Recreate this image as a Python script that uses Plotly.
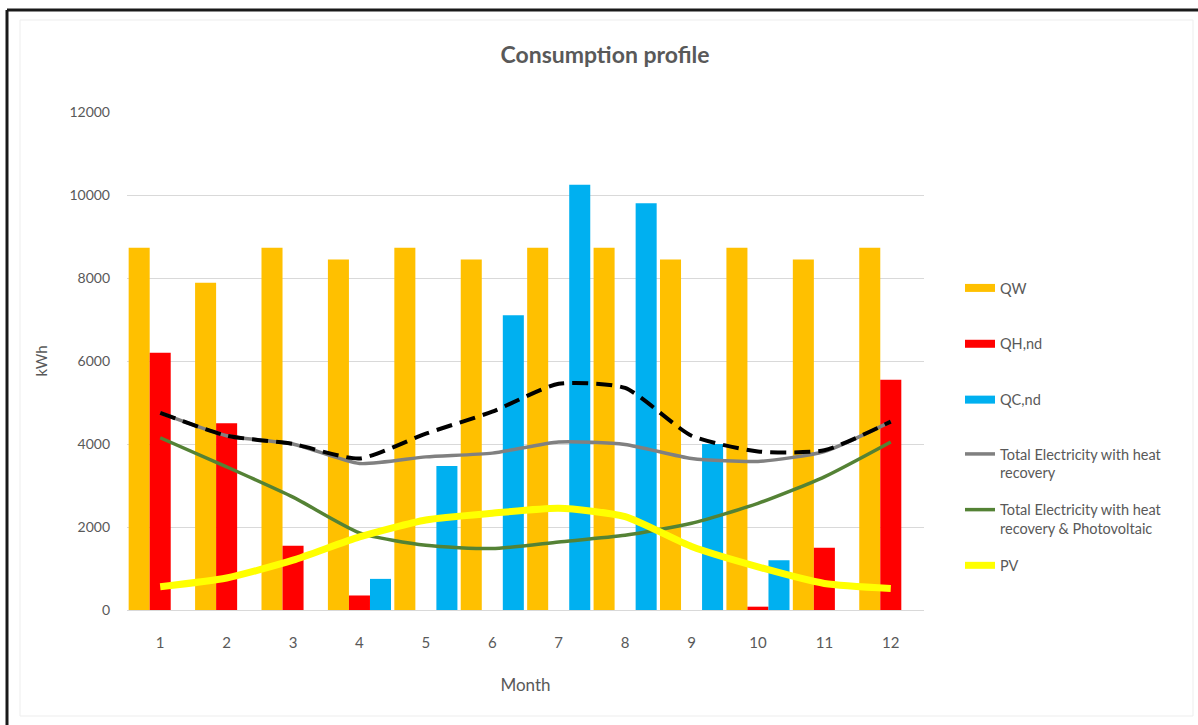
import plotly.graph_objects as go

# Monthly energy figures (kWh)
months = list(range(1, 13))
qw = [8730, 7885, 8730, 8448, 8730, 8448, 8730, 8730, 8448, 8730, 8448, 8730]
qh_nd = [6200, 4500, 1550, 350, 0, 0, 0, 0, 0, 80, 1500, 5550]
qc_nd = [0, 0, 0, 750, 3470, 7100, 10250, 9800, 4000, 1200, 0, 0]
total_no_recovery = [4750, 4200, 4000, 3650, 4250, 4780, 5450, 5350, 4200, 3820, 3850, 4540]
total_recovery = [4750, 4200, 4000, 3530, 3690, 3780, 4050, 3990, 3650, 3580, 3820, 4540]
total_recovery_pv = [4150, 3450, 2720, 1860, 1560, 1480, 1640, 1800, 2090, 2570, 3210, 4050]
pv = [560, 770, 1200, 1760, 2170, 2330, 2450, 2250, 1530, 1040, 640, 520]

y_ticks = [0, 2000, 4000, 6000, 8000, 10000, 12000]
y_tick_text = [str(v) for v in y_ticks]

FONT = "Lato"
TEXT = "#595959"
GRID = "#d9d9d9"
SMOOTH = 0.6

W, H = 1198, 725
ML, MR, MT, MB = 127, 274, 112, 115


def px_x(px):
    return (px - ML) / (W - ML - MR)


def px_y(py):
    return (H - MB - py) / (H - MT - MB)


fig = go.Figure()

bar_series = [
    ("QW", qw, "#FFC000"),
    ("QH,nd", qh_nd, "#FF0000"),
    ("QC,nd", qc_nd, "#00B0F0"),
]
for name, vals, color in bar_series:
    fig.add_trace(go.Bar(
        x=months, y=vals, name=name, marker=dict(color=color, line=dict(width=0)),
        legendgroup=name, showlegend=False,
    ))
    # wide swatch entry for the legend
    fig.add_trace(go.Scatter(
        x=[None], y=[None], mode="lines", name=name, legendgroup=name,
        line=dict(color=color, width=8), legend="legend",
    ))

fig.add_trace(go.Scatter(
    x=months, y=total_recovery, mode="lines", name="Total Electricity with heat<br>recovery",
    line=dict(color="#808080", width=3.5, shape="spline", smoothing=SMOOTH),
    legend="legend2", legendgroup="tr",
))
fig.add_trace(go.Scatter(
    x=months, y=total_recovery_pv, mode="lines",
    name="Total Electricity with heat<br>recovery & Photovoltaic",
    line=dict(color="#548235", width=3.5, shape="spline", smoothing=SMOOTH),
    legend="legend2", legendgroup="trpv",
))
fig.add_trace(go.Scatter(
    x=months, y=pv, mode="lines", name="PV",
    line=dict(color="#FFFF00", width=7, shape="spline", smoothing=SMOOTH),
    legend="legend2", legendgroup="pv",
))
fig.add_trace(go.Scatter(
    x=months, y=total_no_recovery, mode="lines", name="Total Electricity",
    line=dict(color="#000000", width=4, dash="16px,8px", shape="spline", smoothing=SMOOTH),
    showlegend=False,
))

shapes = [
    # outer frame (left and top edges)
    dict(type="line", xref="paper", yref="paper", x0=px_x(7), x1=px_x(7), y0=px_y(H), y1=px_y(10),
         line=dict(color="#1a1a1a", width=3)),
    dict(type="line", xref="paper", yref="paper", x0=px_x(7), x1=px_x(W), y0=px_y(10), y1=px_y(10),
         line=dict(color="#1a1a1a", width=3)),
    # light chart-area border
    dict(type="rect", xref="paper", yref="paper", x0=px_x(20), x1=px_x(1193), y0=px_y(716), y1=px_y(20),
         line=dict(color="#ededed", width=1), layer="below"),
]

fig.update_layout(
    width=W, height=H,
    margin=dict(l=ML, r=MR, t=MT, b=MB, autoexpand=False),
    paper_bgcolor="white", plot_bgcolor="white",
    font=dict(family=FONT, color=TEXT, size=14),
    title=dict(text="<b>Consumption profile</b>", x=0.505, xanchor="center", xref="container",
               y=1 - 55 / H, yanchor="middle", yref="container",
               font=dict(family=FONT, size=23, color=TEXT)),
    barmode="group", bargap=0.05, bargroupgap=0,
    xaxis=dict(
        range=[0.5, 12.5], tickmode="array", tickvals=months, ticktext=[str(m) for m in months],
        showgrid=False, showline=True, linecolor=GRID, linewidth=1, ticks="",
        tickfont=dict(size=15, color=TEXT), ticklabelstandoff=19,
        title=dict(text="Month", standoff=29, font=dict(size=17, color=TEXT)),
        zeroline=False,
    ),
    yaxis=dict(
        range=[0, 12000], tickmode="array", tickvals=y_ticks, ticktext=y_tick_text,
        showgrid=True, gridcolor=GRID, gridwidth=1, zeroline=False, ticks="",
        tickfont=dict(size=14, color=TEXT), ticklabelstandoff=16,
        title=dict(text="kWh", standoff=18, font=dict(size=15, color=TEXT)),
    ),
    legend=dict(x=px_x(960), y=px_y(272), xanchor="left", yanchor="top",
                font=dict(size=14.5, color=TEXT), tracegroupgap=34, bgcolor="rgba(0,0,0,0)"),
    legend2=dict(x=px_x(960), y=px_y(438), xanchor="left", yanchor="top",
                 font=dict(size=14.5, color=TEXT), tracegroupgap=15, valign="top",
                 bgcolor="rgba(0,0,0,0)"),
    shapes=shapes,
)

fig.write_html("out.html")
